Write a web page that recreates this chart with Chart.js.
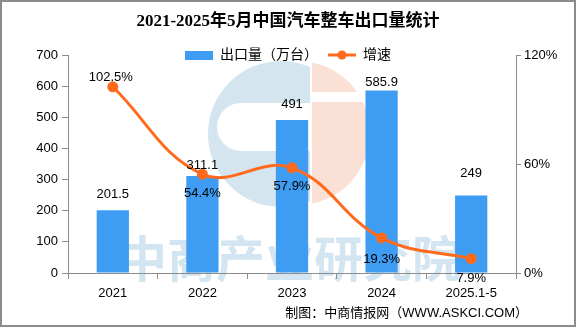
<!DOCTYPE html>
<html><head><meta charset="utf-8">
<script src="https://cdn.jsdelivr.net/npm/chart.js@4/dist/chart.umd.min.js"></script>
<style>html,body{margin:0;padding:0;background:#fff}canvas{display:block}</style>
</head><body>
<canvas id="c" width="576" height="327"></canvas>
<script>
const categories = ['2021', '2022', '2023', '2024', '2025.1-5'];
const exportVolume = [201.5, 311.1, 491, 585.9, 249];
const growthRate = [102.5, 54.4, 57.9, 19.3, 7.9];
const volumeAxis = {min: 0, max: 700, step: 100};
const rateAxis = {min: 0, max: 120, step: 60};
const titleText = '2021-2025年5月中国汽车整车出口量统计';
const seriesNames = ['出口量（万台）', '增速'];
const sourceText = '制图：中商情报网（WWW.ASKCI.COM）';
const watermarkText = '中商产业研究院';

const FONT = "'Liberation Sans','Noto Sans CJK SC',sans-serif";
const BLUE = '#3E9DF2';
const ORANGE = '#FF6A1C';
const AXIS = '#8c8c8c';

function makeIcon(w, h, draw) {
  const c = document.createElement('canvas'); c.width = w; c.height = h;
  draw(c.getContext('2d')); return c;
}
const barIcon = makeIcon(28, 9, g => { g.fillStyle = BLUE; g.fillRect(0, 0, 28, 9); });
const lineIcon = makeIcon(28, 10, g => {
  g.strokeStyle = ORANGE; g.lineWidth = 3; g.beginPath(); g.moveTo(0, 5); g.lineTo(28, 5); g.stroke();
  g.fillStyle = ORANGE; g.beginPath(); g.arc(14, 5, 4.5, 0, Math.PI * 2); g.fill();
});

const watermark = {
  id: 'watermark',
  beforeDraw(chart) {
    const ctx = chart.ctx;
    ctx.save();
    ctx.beginPath(); ctx.rect(0, 0, 310, 327); ctx.clip();
    ctx.beginPath();
    ctx.arc(281, 134, 73, 0, Math.PI * 2);
    ctx.moveTo(314, 103); ctx.lineTo(241, 103);
    ctx.arc(241, 127, 24, -Math.PI / 2, Math.PI / 2, true);
    ctx.lineTo(314, 151); ctx.closePath();
    ctx.fillStyle = '#D5E5EF'; ctx.fill('evenodd');
    ctx.restore();
    ctx.save();
    ctx.beginPath(); ctx.rect(312, 0, 120, 92); ctx.rect(312, 102, 120, 200); ctx.clip();
    ctx.beginPath(); ctx.arc(298, 133, 72, 0, Math.PI * 2);
    ctx.fillStyle = '#FBE1D5'; ctx.fill();
    ctx.restore();
    ctx.save();
    ctx.font = "bold 49px 'Noto Sans CJK SC',sans-serif";
    ctx.fillStyle = '#D3E5F1'; ctx.textAlign = 'left'; ctx.textBaseline = 'middle';
    ctx.fillText(watermarkText, 118, 258);
    ctx.restore();
  }
};

const legendOverlay = {
  id: 'legendOverlay',
  afterInit(chart) {
    const lg = chart.legend; if (!lg) return;
    const fit = lg.fit;
    lg.fit = function () { fit.call(this); this.height = 0; };
    lg.draw = function () {
      if (!this.options.display) return;
      const t = this.top; this.top = t - 17; this._draw(); this.top = t;
    };
  }
};

const valueLabels = {
  id: 'valueLabels',
  afterDatasetsDraw(chart, args, opts) {
    const ctx = chart.ctx;
    ctx.save();
    ctx.font = '13px ' + FONT; ctx.fillStyle = '#000';
    ctx.textAlign = 'center'; ctx.textBaseline = 'middle';
    chart.getDatasetMeta(0).data.forEach((el, i) => {
      ctx.fillText(String(exportVolume[i]), el.x, el.y - opts.barOffsets[i]);
    });
    chart.getDatasetMeta(1).data.forEach((el, i) => {
      ctx.fillText(growthRate[i].toFixed(1) + '%', el.x + opts.lineDx[i], el.y + opts.lineOffsets[i]);
    });
    ctx.restore();
  },
  afterDraw(chart) {
    const ctx = chart.ctx;
    ctx.save();
    ctx.font = '13px ' + FONT; ctx.fillStyle = '#000';
    ctx.textAlign = 'right'; ctx.textBaseline = 'middle';
    ctx.fillText(sourceText, 528, 313);
    ctx.strokeStyle = AXIS; ctx.lineWidth = 2;
    ctx.strokeRect(1, 1, 574, 325);
    ctx.restore();
  }
};

new Chart(document.getElementById('c'), {
  data: {
    labels: categories,
    datasets: [
      {type: 'bar', label: seriesNames[0], data: exportVolume, backgroundColor: BLUE,
       yAxisID: 'y', order: 1, categoryPercentage: 1, barPercentage: 0.36},
      {type: 'line', label: seriesNames[1], data: growthRate, borderColor: ORANGE, backgroundColor: ORANGE,
       yAxisID: 'y1', order: 0, borderWidth: 3, pointRadius: 4, pointHoverRadius: 4,
       pointBackgroundColor: ORANGE, pointBorderColor: ORANGE, tension: 0.4}
    ]
  },
  options: {
    responsive: false, animation: false, devicePixelRatio: 1,
    layout: {padding: 0},
    plugins: {
      title: {display: true, text: titleText, color: '#000',
        font: {family: "'Liberation Serif','Noto Sans CJK SC',serif", size: 17, weight: 'bold', lineHeight: 1.2},
        padding: {top: 11, bottom: 23.6}},
      legend: {display: true, position: 'top',
        labels: {usePointStyle: true, pointStyleWidth: 28, boxHeight: 10, padding: 10, color: '#000',
          font: {family: FONT, size: 14},
          generateLabels(chart) {
            const items = Chart.defaults.plugins.legend.labels.generateLabels(chart);
            items.sort((a, b) => a.datasetIndex - b.datasetIndex);
            items.forEach(it => { it.pointStyle = it.datasetIndex === 0 ? barIcon : lineIcon; });
            return items;
          }}},
      tooltip: {enabled: false},
      valueLabels: {barOffsets: [16, 11, 16, 8, 22], lineOffsets: [-9, 19, 19, 21, 20], lineDx: [-2, 0, 0, 0, 0]}
    },
    scales: {
      x: {
        grid: {display: true, drawOnChartArea: false, drawTicks: true, tickLength: 6, color: AXIS, offset: true},
        border: {color: AXIS, width: 1},
        ticks: {font: {family: FONT, size: 13}, color: '#000', padding: 7, maxRotation: 0, autoSkip: false},
        afterFit(s) { s.height = 54; }
      },
      y: {
        position: 'left', min: volumeAxis.min, max: volumeAxis.max,
        ticks: {stepSize: volumeAxis.step, font: {family: FONT, size: 13}, color: '#000', padding: 4},
        grid: {drawOnChartArea: false, tickLength: 6, color: AXIS},
        border: {color: AXIS, width: 1},
        afterFit(s) { s.width = 68; }
      },
      y1: {
        position: 'right', min: rateAxis.min, max: rateAxis.max,
        ticks: {stepSize: rateAxis.step, font: {family: FONT, size: 13}, color: '#000', padding: 3,
          callback: v => v + '%'},
        grid: {drawOnChartArea: false, tickLength: 5, color: AXIS},
        border: {color: AXIS, width: 1},
        afterFit(s) { s.width = 60; }
      }
    }
  },
  plugins: [watermark, legendOverlay, valueLabels]
});
</script>
</body></html>
